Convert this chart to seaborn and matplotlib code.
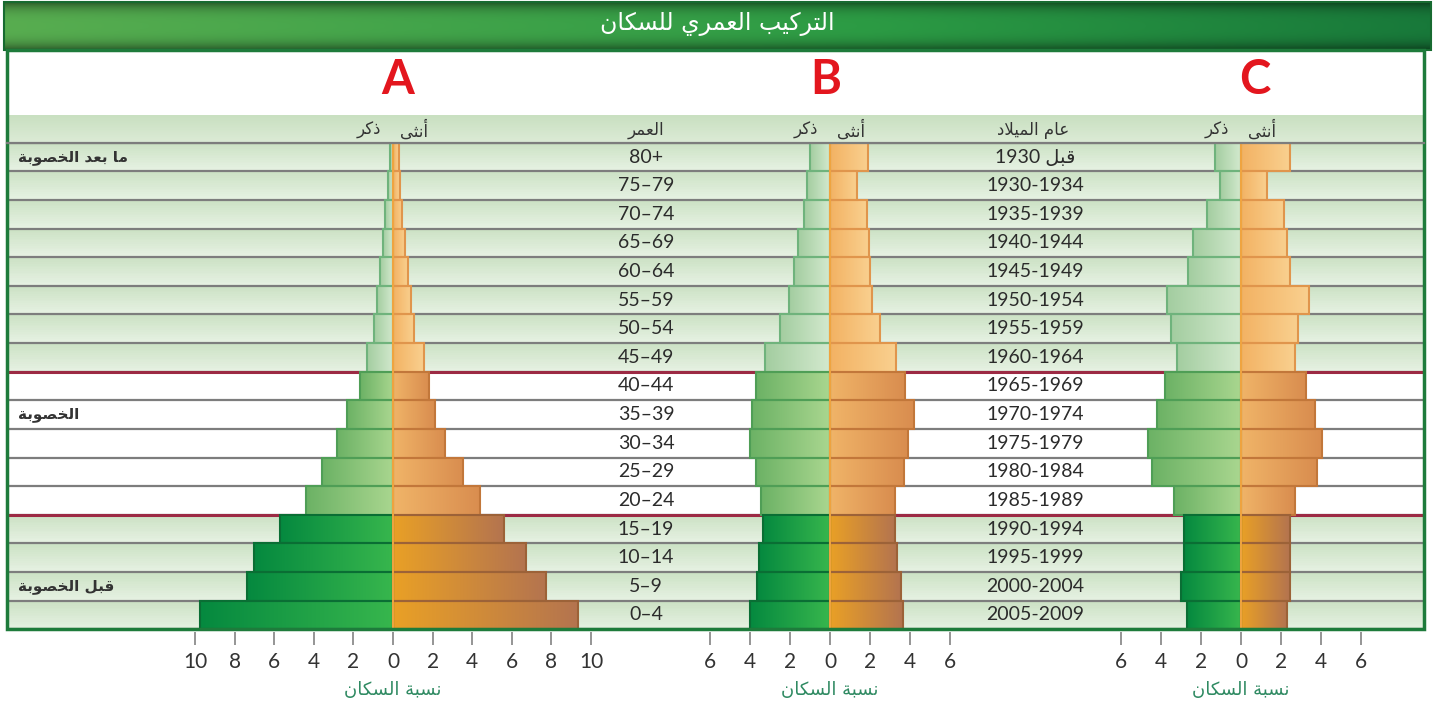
import numpy as np
import pandas as pd
import matplotlib
matplotlib.use('Agg')
import matplotlib.pyplot as plt
import seaborn as sns
from matplotlib.colors import to_rgb
from matplotlib.patches import Rectangle

# data: share of population (%) per age group, male / female
ages = ['80+', '75–79', '70–74', '65–69', '60–64', '55–59', '50–54', '45–49',
        '40–44', '35–39', '30–34', '25–29', '20–24', '15–19', '10–14', '5–9', '0–4']
births = ['قبل 1930', '1930-1934', '1935-1939', '1940-1944', '1945-1949', '1950-1954',
          '1955-1959', '1960-1964', '1965-1969', '1970-1974', '1975-1979', '1980-1984',
          '1985-1989', '1990-1994', '1995-1999', '2000-2004', '2005-2009']
sections = ['post'] * 8 + ['fert'] * 5 + ['pre'] * 4

a_male = [0.17, 0.25, 0.42, 0.5, 0.65, 0.8, 0.98, 1.33, 1.67, 2.3, 2.85, 3.6, 4.4, 5.7, 7.0, 7.35, 9.75]
a_female = [0.28, 0.35, 0.47, 0.63, 0.75, 0.93, 1.05, 1.55, 1.8, 2.1, 2.65, 3.55, 4.4, 5.6, 6.7, 7.75, 9.35]
b_male = [1.0, 1.15, 1.3, 1.6, 1.8, 2.05, 2.5, 3.25, 3.7, 3.9, 4.0, 3.7, 3.45, 3.35, 3.55, 3.65, 4.0]
b_female = [1.9, 1.35, 1.85, 1.95, 2.0, 2.1, 2.5, 3.3, 3.75, 4.2, 3.9, 3.7, 3.25, 3.25, 3.35, 3.55, 3.65]
c_male = [1.3, 1.05, 1.7, 2.4, 2.65, 3.7, 3.5, 3.2, 3.8, 4.2, 4.65, 4.45, 3.35, 2.85, 2.85, 3.0, 2.7]
c_female = [2.45, 1.3, 2.15, 2.3, 2.45, 3.4, 2.85, 2.7, 3.25, 3.7, 4.05, 3.8, 2.7, 2.45, 2.45, 2.45, 2.3]

# ---- minimal arabic shaping (matplotlib draws glyphs left to right, unjoined)
FORMS = {
    'ا': ('\uFE8D', '\uFE8E', None, None),
    'أ': ('\uFE83', '\uFE84', None, None),
    'ب': ('\uFE8F', '\uFE90', '\uFE91', '\uFE92'),
    'ة': ('\uFE93', '\uFE94', None, None),
    'ت': ('\uFE95', '\uFE96', '\uFE97', '\uFE98'),
    'ث': ('\uFE99', '\uFE9A', '\uFE9B', '\uFE9C'),
    'خ': ('\uFEA5', '\uFEA6', '\uFEA7', '\uFEA8'),
    'د': ('\uFEA9', '\uFEAA', None, None),
    'ذ': ('\uFEAB', '\uFEAC', None, None),
    'ر': ('\uFEAD', '\uFEAE', None, None),
    'س': ('\uFEB1', '\uFEB2', '\uFEB3', '\uFEB4'),
    'ص': ('\uFEB9', '\uFEBA', '\uFEBB', '\uFEBC'),
    'ع': ('\uFEC9', '\uFECA', '\uFECB', '\uFECC'),
    'ق': ('\uFED5', '\uFED6', '\uFED7', '\uFED8'),
    'ك': ('\uFED9', '\uFEDA', '\uFEDB', '\uFEDC'),
    'ل': ('\uFEDD', '\uFEDE', '\uFEDF', '\uFEE0'),
    'م': ('\uFEE1', '\uFEE2', '\uFEE3', '\uFEE4'),
    'ن': ('\uFEE5', '\uFEE6', '\uFEE7', '\uFEE8'),
    'و': ('\uFEED', '\uFEEE', None, None),
    'ى': ('\uFEEF', '\uFEF0', None, None),
    'ي': ('\uFEF1', '\uFEF2', '\uFEF3', '\uFEF4'),
}
LAM_ALEF = {'ا': ('\uFEFB', '\uFEFC'), 'أ': ('\uFEF7', '\uFEF8')}


def shape_word(w):
    out, i = [], 0
    while i < len(w):
        c = w[i]
        if c not in FORMS:
            out.append(c)
            i += 1
            continue
        prev = w[i - 1] if i > 0 else ''
        jp = prev in FORMS and FORMS[prev][2] is not None
        if c == 'ل' and i + 1 < len(w) and w[i + 1] in LAM_ALEF:
            out.append(LAM_ALEF[w[i + 1]][1 if jp else 0])
            i += 2
            continue
        nxt = w[i + 1] if i + 1 < len(w) else ''
        jn = FORMS[c][2] is not None and nxt in FORMS
        iso, fin, ini, med = FORMS[c]
        out.append(med if jp and jn else fin if jp else ini if jn else iso)
        i += 1
    return ''.join(reversed(out))


def ar(s):
    words = s.split(' ')
    return ' '.join(reversed([shape_word(w) if any(ch in FORMS for ch in w) else w for w in words]))


plt.rcParams['font.family'] = ['Lato', 'DejaVu Sans']

W, H = 1446, 713
fig = plt.figure(figsize=(W / 100, H / 100), dpi=100)
fig.patch.set_facecolor('white')


def px_axes(x0, y0, x1, y1, z):
    return fig.add_axes([x0 / W, 1 - y1 / H, (x1 - x0) / W, (y1 - y0) / H], zorder=z)


def blend(c1, c2, n):
    t = np.linspace(0, 1, n)[:, None]
    return (1 - t) * np.array(to_rgb(c1)) + t * np.array(to_rgb(c2))


ROW_TOP, ROW_BOT = 142.7, 629.3
FX0, FX1 = 7, 1424

# ---- background / title bar
bg = px_axes(0, 0, W, H, 0)
bg.set_xlim(0, W)
bg.set_ylim(H, 0)
bg.axis('off')
hor = np.concatenate([blend('#58ad50', '#2c9b44', 120), blend('#2c9b44', '#18793a', 80)])
vert = 1 - 0.45 * np.abs(np.linspace(-1, 1, 40)) ** 3
bar_img = vert[:, None, None] * hor[None, :, :]
bg.imshow(bar_img, extent=(4, 1431, 50, 2), aspect='auto', interpolation='bilinear', zorder=1)
bg.add_patch(Rectangle((4, 2), 1427, 48, fill=False, ec='#176a30', lw=1.5, zorder=2))
bg.text(717, 24, ar('التركيب العمري للسكان'), color='white', fontsize=17,
        ha='center', va='center', family='DejaVu Sans', zorder=3)
# header row
hdr = blend('#c9e0c1', '#dcebd6', 20)[:, None, :]
bg.imshow(hdr, extent=(FX0, FX1, ROW_TOP, 115), aspect='auto', zorder=1)

# ---- table rows
tab = px_axes(FX0, ROW_TOP, FX1, ROW_BOT, 1)
tab.set_xlim(FX0, FX1)
tab.set_ylim(16.5, -0.5)
tab.axis('off')
rows = []
for s in sections:
    if s == 'fert':
        rows.append(np.ones((16, 3)))
    else:
        rows.append(blend('#cce2c5', '#e6f1e2', 16))
tab.imshow(np.concatenate(rows)[:, None, :], extent=(FX0, FX1, 16.5, -0.5),
           aspect='auto', interpolation='nearest', zorder=0)
for k in range(-1, 17):
    tab.axhline(k + 0.5, color='#7d7d7d', lw=1.6, zorder=1)
for k in (7.5, 12.5):
    tab.axhline(k, color='#9c2a44', lw=2.2, zorder=2)
for i, (a, b) in enumerate(zip(ages, births)):
    tab.text(646, i, a, ha='center', va='center', fontsize=14, color='#2b2b2b', zorder=3)
    tab.text(1035, i, ar(b), ha='center', va='center', fontsize=14, color='#2b2b2b', zorder=3)
for row, txt in ((0, 'ما بعد الخصوبة'), (9, 'الخصوبة'), (15, 'قبل الخصوبة')):
    tab.text(18, row, ar(txt), ha='left', va='center', fontsize=11, color='#333333',
             family='DejaVu Sans', weight='bold', zorder=3)

# ---- pyramids
STYLE = {
    ('m', 'post'): ('#a3cda0', '#d3e9ce', '#6fb37c'),
    ('m', 'fert'): ('#6cb265', '#a9d68f', '#4f9e56'),
    ('m', 'pre'): ('#05893f', '#37b64d', '#0a6e34'),
    ('f', 'post'): ('#f3b263', '#f9d08f', '#e0954c'),
    ('f', 'fert'): ('#f0b468', '#d98d4f', '#c2773a'),
    ('f', 'pre'): ('#e9a026', '#b4744f', '#9c6238'),
}


def pyramid(x0, x1, lim, cats, male, female):
    ax = px_axes(x0, ROW_TOP, x1, ROW_BOT, 2)
    ax.patch.set_alpha(0)
    df = pd.DataFrame({'cat': cats, 'male': -np.array(male), 'female': female})
    sns.barplot(data=df, x='male', y='cat', order=cats, color='#3cb54a', width=1.0,
                errorbar=None, saturation=1, ax=ax)
    sns.barplot(data=df, x='female', y='cat', order=cats, color='#e8a028', width=1.0,
                errorbar=None, saturation=1, ax=ax)
    for p in list(ax.patches):
        bb = p.get_bbox()
        bx0, bx1 = sorted([bb.x0, bb.x1])
        by0, by1 = sorted([bb.y0, bb.y1])
        row = int(round((by0 + by1) / 2))
        sex = 'm' if bx0 < 0 else 'f'
        c_left, c_right, edge = STYLE[(sex, sections[row])]
        im = ax.imshow(blend(c_left, c_right, 64)[None, :, :], extent=(bx0, bx1, by1, by0),
                       aspect='auto', interpolation='bilinear', zorder=2)
        im.set_clip_path(p)
        p.set_facecolor('none')
        p.set_edgecolor(edge)
        p.set_linewidth(1.5)
        p.set_zorder(3)
    ax.axvline(0, color='#f0a540', lw=1.4, zorder=4)
    ax.set_xlim(-lim, lim)
    ax.set_ylim(16.5, -0.5)
    ticks = np.arange(-lim, lim + 1, 2)
    ax.set_xticks(ticks)
    ax.set_xticklabels([str(abs(t)) for t in ticks])
    ax.set_yticks([])
    ax.set_ylabel('')
    for sp in ax.spines.values():
        sp.set_visible(False)
    ax.spines['bottom'].set_position(('outward', 2))
    ax.tick_params(axis='x', direction='out', length=9, width=1.3, color='#8c8c8c',
                   labelsize=15, labelcolor='#333333', pad=5)
    ax.set_xlabel(ar('نسبة السكان'), color='#2f8a62', fontsize=13, labelpad=7,
                  family='DejaVu Sans')
    return ax


pyramid(195, 591, 10, ages, a_male, a_female)
pyramid(710, 950, 6, ages, b_male, b_female)
pyramid(1121, 1361, 6, births, c_male, c_female)

# ---- overlay: frame, letters, header labels
top = px_axes(0, 0, W, H, 10)
top.set_xlim(0, W)
top.set_ylim(H, 0)
top.axis('off')
top.patch.set_alpha(0)
top.add_patch(Rectangle((FX0, 50), FX1 - FX0, ROW_BOT - 50, fill=False, ec='#1e7b3b', lw=2.5))
top.plot([FX0, FX1], [ROW_TOP, ROW_TOP], color='#7d7d7d', lw=1.6)
for x, letter in ((398, 'A'), (826, 'B'), (1255, 'C')):
    top.text(x, 80, letter, color='#e3161e', fontsize=34, weight='bold', ha='center', va='center')
for cx in (393, 830, 1241):
    top.text(cx - 12, 130, ar('ذكر'), ha='right', va='center', fontsize=12,
             color='#333333', family='DejaVu Sans')
    top.text(cx + 7, 130, ar('أنثى'), ha='left', va='center', fontsize=12,
             color='#333333', family='DejaVu Sans')
top.text(646, 130, ar('العمر'), ha='center', va='center', fontsize=12,
         color='#333333', family='DejaVu Sans')
top.text(1033, 130, ar('عام الميلاد'), ha='center', va='center', fontsize=12,
         color='#333333', family='DejaVu Sans')

fig.savefig('out.png', dpi=100)
